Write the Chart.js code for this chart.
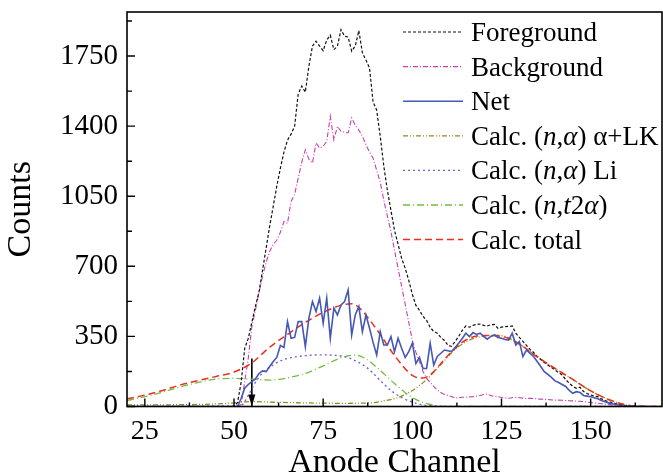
<!DOCTYPE html>
<html>
<head>
<meta charset="utf-8">
<script src="https://cdn.jsdelivr.net/npm/chart.js@4.4.0/dist/chart.umd.min.js"></script>
<style>
  body { margin: 0; background: #fff; }
  canvas { display: block; }
</style>
</head>
<body>
<canvas id="spectrum" width="663" height="474"></canvas>
<script>
// measured spectra, one value per anode channel from firstChannel on
const firstChannel = 20;

const foreground = [
  0, 0, 0, 0, 0, 0, 0, 0, 0, 0, 0, 0, 0, 0, 0, 0, 0, 0, 0, 0, 0, 0, 0, 0, 0, 0, 0, 0, 0, 0,
  0, 20, 120, 290, 340, 420, 500, 570, 680, 790,
  900, 1000, 1100, 1190, 1270, 1330, 1360, 1400, 1560, 1600,
  1570, 1700, 1800, 1824, 1800, 1777, 1830, 1854, 1782, 1799,
  1882, 1849, 1845, 1774, 1800, 1877, 1766, 1730, 1690, 1520,
  1480, 1350, 1200, 1080, 980, 880, 810, 740, 690, 630,
  560, 505, 480, 450, 430, 395, 375, 366, 345, 330,
  305, 300, 325, 350, 380, 402, 396, 405, 410, 412,
  405, 402, 408, 410, 391, 396, 399, 400, 402, 366,
  345, 325, 305, 285, 270, 250, 235, 220, 207, 195,
  182, 170, 157, 135, 116, 100, 91, 96, 75, 65,
  57, 52, 49, 38, 29, 24, 19, 15, 12, 7,
  3, 2, 0, 0, 0, 0
];

const background = [
  0, 0, 0, 0, 0, 0, 0, 0, 0, 0, 0, 0, 0, 0, 0, 0, 0, 0, 0, 0, 0, 0, 0, 0, 0, 0, 0, 0, 0, 0,
  0, 0, 10, 124, 240, 400, 480, 570, 650, 720,
  774, 810, 830, 870, 924, 915, 1024, 1060, 1140, 1220,
  1282, 1235, 1216, 1316, 1291, 1300, 1324, 1449, 1332, 1399,
  1374, 1370, 1366, 1441, 1405, 1380, 1350, 1307, 1270, 1240,
  1180, 1120, 1030, 950, 874, 780, 690, 600, 510, 420,
  330, 270, 225, 175, 140, 120, 100, 82, 70, 60,
  55, 50, 42, 44, 46, 46, 48, 49, 52, 55,
  60, 62, 55, 50, 49, 45, 42, 41, 44, 46,
  44, 42, 40, 41, 40, 38, 37, 36, 35, 33,
  32, 32, 31, 30, 29, 28, 27, 26, 24, 22,
  20, 18, 16, 14, 12, 10, 8, 6, 4, 2,
  1, 0, 0, 0, 0, 0
];

const net = [
  0, 0, 0, 0, 0, 0, 0, 0, 0, 0, 0, 0, 0, 0, 0, 0, 0, 0, 0, 0, 0, 0, 0, 0, 0, 0, 0, 0, 0, 0,
  0, 0, 40, 91, 110, 124, 138, 165, 178, 174,
  200, 225, 245, 305, 295, 424, 341, 345, 424, 424,
  299, 441, 524, 474, 541, 415, 541, 340, 491, 457,
  507, 524, 582, 357, 457, 499, 374, 457, 391, 320,
  257, 374, 307, 307, 349, 274, 341, 291, 245, 274,
  316, 215, 245, 190, 190, 316, 207, 250, 266, 282,
  278, 274, 295, 316, 340, 366, 349, 369, 360, 366,
  350, 336, 350, 357, 345, 341, 335, 332, 366, 307,
  324, 249, 282, 265, 250, 225, 200, 174, 160, 145,
  128, 120, 110, 100, 80, 66, 74, 70, 55, 52,
  49, 44, 39, 30, 24, 18, 14, 10, 6, 3,
  2, 1, 0, 0, 0, 0
];

// calculated components, sampled at the listed channels
const alphaLkCh = [20, 40, 50, 55, 60, 70, 80, 88, 92, 96, 100, 104, 108, 112, 116, 120, 123, 126, 130, 135, 140, 145, 150, 155, 160, 165, 170];
const alphaLk   = [8, 10, 18, 25, 22, 18, 16, 18, 28, 45, 80, 135, 210, 285, 332, 352, 356, 350, 312, 248, 190, 135, 78, 35, 8, 1, 0];

const liCh = [20, 50, 52, 54, 56, 58, 60, 63, 66, 70, 74, 78, 81, 85, 88, 91, 94, 97, 100, 103, 106, 110, 170];
const li   = [2, 2, 5, 55, 120, 168, 196, 228, 244, 254, 258, 256, 249, 220, 183, 130, 80, 45, 22, 8, 2, 0, 0];

const t2alphaCh = [20, 25, 30, 35, 40, 45, 50, 55, 60, 65, 70, 75, 80, 84, 87, 90, 95, 100, 105, 110, 170];
const t2alpha   = [30, 49, 72, 98, 121, 137, 141, 136, 132, 143, 165, 203, 243, 257, 238, 196, 115, 45, 10, 0, 0];

const totalCh = [20, 25, 30, 35, 40, 45, 50, 55, 60, 65, 70, 75, 80, 83, 85, 90, 95, 100, 103, 105, 110, 115, 120, 125, 130, 135, 140, 145, 150, 155, 160, 165, 170];
const total   = [38, 57, 80, 108, 130, 150, 172, 218, 296, 360, 420, 470, 505, 513, 495, 385, 255, 155, 142, 158, 255, 332, 355, 350, 312, 248, 190, 135, 78, 35, 8, 1, 0];

// threshold marker
const markerChannel = 55;
const markerTop = 240;

// axes
const xTickValues = [25, 50, 75, 100, 125, 150];
const yTickValues = [0, 350, 700, 1050, 1400, 1750];
const xRange = [20, 170];
const yRange = [0, 1970];

// key text, *...* is set in italic
const keyNames = [
  'Foreground',
  'Background',
  'Net',
  'Calc. (*n*,*α*) α+LK',
  'Calc. (*n*,*α*) Li',
  'Calc. (*n*,*t*2*α*)',
  'Calc. total'
];

const serif = '"Liberation Serif", "Times New Roman", serif';

function byChannel(values) {
  return values.map((v, i) => ({ x: firstChannel + i, y: v }));
}
function pairs(chs, values) {
  return chs.map((c, i) => ({ x: c, y: values[i] }));
}

function line(keyIndex, data, color, dash, width, smooth) {
  return {
    label: keyNames[keyIndex].replace(/\*/g, ''),
    keyIndex: keyIndex,
    data: data,
    borderColor: color,
    borderDash: dash,
    borderWidth: width,
    pointRadius: 0,
    fill: false,
    tension: 0,
    cubicInterpolationMode: smooth ? 'monotone' : 'default'
  };
}

const datasets = [
  line(2, byChannel(net), '#4458b4', [], 1.6, false),
  line(6, pairs(totalCh, total), '#ee2d1f', [7, 4], 1.5, true),
  line(0, byChannel(foreground), '#111111', [3, 2], 1.2, false),
  line(1, byChannel(background), '#c83fae', [5, 2, 1, 2], 1.1, false),
  line(3, pairs(alphaLkCh, alphaLk), '#8d8d1e', [5, 2, 1, 2, 1, 2], 1.3, true),
  line(4, pairs(liCh, li), '#7461d2', [2, 3], 1.4, true),
  line(5, pairs(t2alphaCh, t2alpha), '#6fbf3c', [7, 3, 1, 3], 1.3, true),
  {
    label: 'marker',
    isMarker: true,
    data: [{ x: markerChannel, y: markerTop }, { x: markerChannel, y: 0 }],
    borderColor: '#000',
    borderWidth: 1.6,
    pointRadius: 0
  }
];

// frame, inward ticks, arrow head and the key
const frameAndKey = {
  id: 'frameAndKey',
  afterDatasetsDraw(chart) {
    const { ctx, chartArea: a, scales: { x, y } } = chart;
    ctx.save();
    ctx.strokeStyle = '#000';
    ctx.lineWidth = 1.6;
    ctx.strokeRect(a.left, a.top, a.right - a.left, a.bottom - a.top);

    ctx.lineWidth = 1.4;
    ctx.beginPath();
    for (let i = 0; i < yTickValues.length; i++) {
      const v = yTickValues[i];
      const p = y.getPixelForValue(v);
      ctx.moveTo(a.left, p); ctx.lineTo(a.left + 8, p);
      const half = v + (yTickValues[1] - yTickValues[0]) / 2;
      if (half < yRange[1]) {
        const q = y.getPixelForValue(half);
        ctx.moveTo(a.left, q); ctx.lineTo(a.left + 5, q);
      }
    }
    const xStep = xTickValues[1] - xTickValues[0];
    for (let i = 0; i < xTickValues.length; i++) {
      const v = xTickValues[i];
      const p = x.getPixelForValue(v);
      ctx.moveTo(p, a.bottom); ctx.lineTo(p, a.bottom - 8);
      const half = v + xStep / 2;
      if (half < xRange[1]) {
        const q = x.getPixelForValue(half);
        ctx.moveTo(q, a.bottom); ctx.lineTo(q, a.bottom - 4);
      }
    }
    ctx.stroke();

    // arrow head on the threshold marker
    chart.data.datasets.forEach((ds, i) => {
      if (!ds.isMarker) return;
      const pts = chart.getDatasetMeta(i).data;
      const tip = pts[pts.length - 1];
      ctx.fillStyle = '#000';
      ctx.beginPath();
      ctx.moveTo(tip.x, tip.y);
      ctx.lineTo(tip.x - 3.5, tip.y - 12);
      ctx.lineTo(tip.x + 3.5, tip.y - 12);
      ctx.closePath();
      ctx.fill();
    });

    // key
    const keyX0 = 403, keyX1 = 463, textX = 471, rowY0 = 32, rowGap = 34.6;
    const items = chart.data.datasets.filter(ds => ds.keyIndex !== undefined)
      .sort((p, q) => p.keyIndex - q.keyIndex);
    items.forEach((ds, r) => {
      const yc = rowY0 + r * rowGap;
      ctx.strokeStyle = ds.borderColor;
      ctx.lineWidth = ds.borderWidth;
      ctx.setLineDash(ds.borderDash || []);
      ctx.beginPath();
      ctx.moveTo(keyX0, yc);
      ctx.lineTo(keyX1, yc);
      ctx.stroke();
      ctx.setLineDash([]);

      ctx.fillStyle = '#000';
      ctx.textBaseline = 'alphabetic';
      ctx.textAlign = 'left';
      let tx = textX;
      keyNames[ds.keyIndex].split('*').forEach((part, k) => {
        if (!part) return;
        ctx.font = (k % 2 ? 'italic ' : '') + '27px ' + serif;
        ctx.fillText(part, tx, yc + 9);
        tx += ctx.measureText(part).width;
      });
    });
    ctx.restore();
  }
};

new Chart(document.getElementById('spectrum'), {
  type: 'line',
  data: { datasets: datasets },
  options: {
    responsive: false,
    devicePixelRatio: 1,
    animation: false,
    layout: { padding: { top: 12, right: 1, left: 0, bottom: 0 } },
    plugins: {
      legend: { display: false },
      tooltip: { enabled: false }
    },
    scales: {
      x: {
        type: 'linear',
        min: xRange[0],
        max: xRange[1],
        afterBuildTicks: s => { s.ticks = xTickValues.map(v => ({ value: v })); },
        afterFit: s => { s.height = 67.5; s.paddingLeft = 0; s.paddingRight = 0; },
        grid: { display: false, drawTicks: false },
        border: { display: false },
        ticks: {
          color: '#000', padding: 8, maxRotation: 0,
          font: { family: serif, size: 28 },
          callback: v => String(v)
        },
        title: {
          display: true,
          text: 'Anode Channel',
          color: '#000',
          font: { family: serif, size: 34 },
          padding: { top: 0, bottom: -9 }
        }
      },
      y: {
        min: yRange[0],
        max: yRange[1],
        afterBuildTicks: s => { s.ticks = yTickValues.map(v => ({ value: v })); },
        afterFit: s => { s.width = 127; s.paddingTop = 0; s.paddingBottom = 0; },
        grid: { display: false, drawTicks: false },
        border: { display: false },
        ticks: {
          color: '#000', padding: 9,
          font: { family: serif, size: 29 },
          callback: v => String(v)
        },
        title: {
          display: true,
          text: 'Counts',
          color: '#000',
          font: { family: serif, size: 34 },
          padding: { top: 1, bottom: 0 }
        }
      }
    }
  },
  plugins: [frameAndKey]
});
</script>
</body>
</html>
